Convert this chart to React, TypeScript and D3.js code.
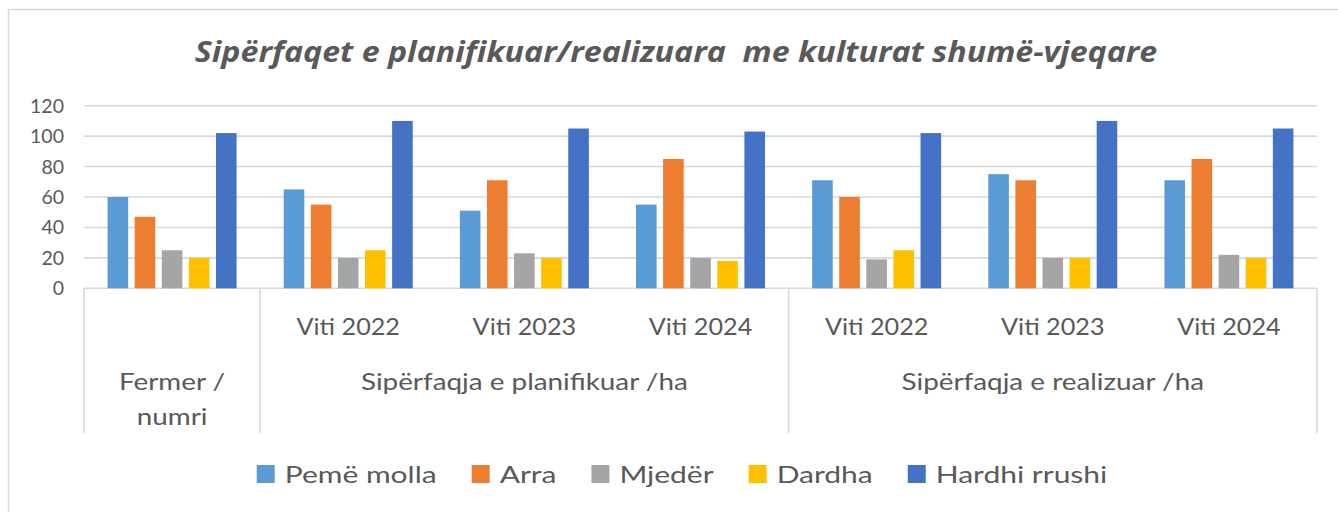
import * as d3 from "d3";
import { useEffect, useRef } from "react";

const TITLE = "Sipërfaqet e planifikuar/realizuara\u00a0 me kulturat shumë-vjeqare";

const SERIES = ["Pemë molla", "Arra", "Mjedër", "Dardha", "Hardhi rrushi"];
const COLORS = ["#5b9bd5", "#ed7d31", "#a5a5a5", "#ffc000", "#4472c4"];

// sub category labels (one bar group each)
const CATEGORIES = ["", "Viti 2022", "Viti 2023", "Viti 2024", "Viti 2022", "Viti 2023", "Viti 2024"];
// top level groups: label lines + how many sub categories they span
const GROUP_LABELS = [["Fermer /", "numri"], ["Sipërfaqja e planifikuar /ha"], ["Sipërfaqja e realizuar /ha"]];
const GROUP_SIZES = [1, 3, 3];

const MOLLA = [60, 65, 51, 55, 71, 75, 71];
const ARRA = [47, 55, 71, 85, 60, 71, 85];
const MJEDER = [25, 20, 23, 20, 19, 20, 22];
const DARDHA = [20, 25, 20, 18, 25, 20, 20];
const HARDHI = [102, 110, 105, 103, 102, 110, 105];
const VALUES = [MOLLA, ARRA, MJEDER, DARDHA, HARDHI];

const Y_TICKS = [0, 20, 40, 60, 80, 100, 120];

const W = 1338;
const H = 512;
const PLOT = { left: 84, right: 1317, top: 105.7, bottom: 288.3 };
const AXIS_BOTTOM = 433;
const TEXT = "#595959";
const GRID = "#d9d9d9";
const FONT = "Lato, 'Open Sans', sans-serif";

export default function App() {
  const ref = useRef<SVGGElement>(null);

  useEffect(() => {
    const g = d3.select(ref.current);
    g.selectAll("*").remove();

    const x = d3
      .scaleBand<number>()
      .domain(d3.range(CATEGORIES.length))
      .range([PLOT.left, PLOT.right]);
    const xs = d3
      .scaleBand<number>()
      .domain(d3.range(SERIES.length))
      .range([0, x.bandwidth()])
      .paddingInner(0.24)
      .paddingOuter(0.87);
    const y = d3.scaleLinear().domain([0, 120]).range([PLOT.bottom, PLOT.top]);

    // text helper, the source text is a bit wider than our fonts
    const label = (
      parent: d3.Selection<any, any, any, any>,
      px: number,
      py: number,
      size: number,
      sx: number,
      anchor = "middle"
    ) =>
      parent
        .append("text")
        .attr("transform", `translate(${px},${py}) scale(${sx},1)`)
        .attr("text-anchor", anchor)
        .attr("fill", TEXT)
        .style("font-family", FONT)
        .style("font-size", `${size}px`);

    // chart frame
    g.append("rect")
      .attr("x", 8.5)
      .attr("y", 9.5)
      .attr("width", W + 20)
      .attr("height", H + 20)
      .attr("fill", "white")
      .attr("stroke", GRID)
      .attr("stroke-width", 1.5);

    // title
    label(g, 676, 62, 28, 1.15)
      .style("font-family", "'Open Sans', sans-serif")
      .style("font-style", "italic")
      .style("font-weight", "bold")
      .text(TITLE);

    // gridlines
    g.selectAll("line.grid")
      .data(Y_TICKS)
      .enter()
      .append("line")
      .attr("class", "grid")
      .attr("x1", PLOT.left)
      .attr("x2", PLOT.right)
      .attr("y1", (d) => y(d))
      .attr("y2", (d) => y(d))
      .attr("stroke", GRID)
      .attr("stroke-width", 1.6);

    Y_TICKS.forEach((t) => {
      label(g, 64, y(t), 19.5, 1, "end").attr("dy", "0.36em").text(t);
    });

    // bars
    SERIES.forEach((s, si) => {
      g.selectAll(`rect.s${si}`)
        .data(VALUES[si])
        .enter()
        .append("rect")
        .attr("class", `s${si}`)
        .attr("x", (_, i) => x(i)! + xs(si)!)
        .attr("width", xs.bandwidth())
        .attr("y", (d) => y(d))
        .attr("height", (d) => y(0) - y(d))
        .attr("fill", COLORS[si]);
    });

    // category axis: separators between top level groups
    const bounds = [0, ...d3.cumsum(GROUP_SIZES)];
    const edge = (b: number) => (b < CATEGORIES.length ? x(b)! : PLOT.right);
    g.selectAll("line.sep")
      .data(bounds)
      .enter()
      .append("line")
      .attr("class", "sep")
      .attr("x1", (d) => edge(d))
      .attr("x2", (d) => edge(d))
      .attr("y1", PLOT.bottom)
      .attr("y2", AXIS_BOTTOM)
      .attr("stroke", GRID)
      .attr("stroke-width", 1.6);

    CATEGORIES.forEach((c, i) => {
      label(g, x(i)! + x.bandwidth() / 2, 335, 24, 1.05).text(c);
    });

    GROUP_LABELS.forEach((lines, gi) => {
      const cx = (edge(bounds[gi]) + edge(bounds[gi + 1])) / 2;
      const t = label(g, cx, 390, 24, 1.16);
      lines.forEach((l, li) => {
        t.append("tspan")
          .attr("x", 0)
          .attr("dy", li === 0 ? 0 : 35)
          .text(l);
      });
    });

    // legend, measured and centred
    const LEG_SX = 1.25;
    const lg = g.append("g");
    const items = SERIES.map((s, i) => {
      const it = lg.append("g");
      it.append("rect")
        .attr("x", 0)
        .attr("y", 465)
        .attr("width", 18)
        .attr("height", 18)
        .attr("fill", COLORS[i]);
      const txt = label(it, 28, 483, 24, LEG_SX, "start").text(s);
      const w = (txt.node() as SVGTextElement).getComputedTextLength() * LEG_SX;
      return { it, w: 28 + w };
    });
    const gap = 35;
    const total = d3.sum(items, (d) => d.w) + gap * (items.length - 1);
    let cx = 682 - total / 2;
    items.forEach((d) => {
      d.it.attr("transform", `translate(${cx},0)`);
      cx += d.w + gap;
    });
  }, []);

  return (
    <svg width={W} height={H} style={{ position: "absolute", left: 0, top: 0, background: "white" }}>
      <g ref={ref} />
    </svg>
  );
}
